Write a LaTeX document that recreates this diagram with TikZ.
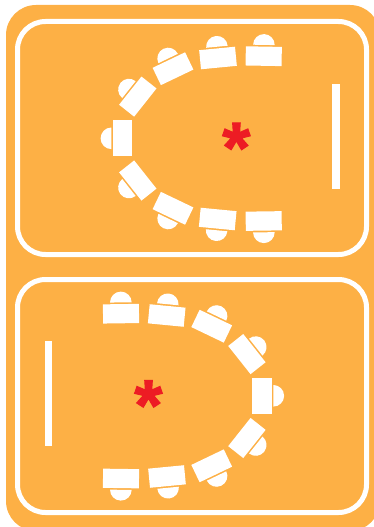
\documentclass[tikz,border=0pt]{standalone}
\usepackage{fontspec}
\setmainfont{Liberation Sans}
\newfontfamily\starfont[FakeBold=1.5]{Liberation Sans Bold}
\definecolor{panel}{RGB}{253,176,69}
\definecolor{mark}{RGB}{237,28,36}
\tikzset{
  frame/.style={draw=white,line width=5pt,rounded corners=28pt},
  whitebar/.style={fill=white},
  star/.style={text=mark,font=\starfont\fontsize{72}{72}\selectfont,inner sep=0pt,anchor=base}
}
\newcommand{\desk}[3]{%
  \begin{scope}[shift={(#1,#2)},rotate=#3]
    \fill[whitebar] (-9.6,-18) rectangle (9.6,18);
    \fill[whitebar] (11.3,-10.8) arc[start angle=-90,end angle=90,radius=10.8] -- cycle;
  \end{scope}}
\begin{document}
\begin{tikzpicture}[x=1pt,y=1pt]
\useasboundingbox (0,0) rectangle (374,-527);
\begin{scope}
\clip (0,0) rectangle (374,-527);
\fill[panel,rounded corners=30pt] (6,-5) rectangle (380,-531);
\end{scope}
\draw[frame] (17.5,-21.5) rectangle (366.5,-254.5);
\draw[frame] (17.5,-279.5) rectangle (366.5,-512.5);
% upper room
\desk{122.7}{-138.3}{180}
\desk{137.8}{-96.6}{141.6}
\desk{173}{-68.7}{115.6}
\desk{218}{-58}{95.5}
\desk{263.7}{-56.2}{89}
\desk{137.8}{-180.5}{218.4}
\desk{173}{-208.3}{244.4}
\desk{217.7}{-219}{264.5}
\desk{263.7}{-221}{270.8}
\fill[whitebar] (332.3,-83.7) rectangle (340,-189);
\node[star] (staru) at (236.3,-172.5) {*};
% lower room
\desk{262}{-395.8}{0}
\desk{246.9}{-354.1}{38.4}
\desk{211.7}{-326.2}{64.4}
\desk{166.7}{-315.5}{84.5}
\desk{121}{-313.7}{90.8}
\desk{246.9}{-438}{-38.4}
\desk{211.7}{-465.8}{-64.4}
\desk{167}{-476.5}{-84.5}
\desk{121}{-478.5}{-90.8}
\fill[whitebar] (44.6,-341) rectangle (52.3,-446.3);
\node[star] (starl) at (148.4,-430) {*};
\end{tikzpicture}
\end{document}
